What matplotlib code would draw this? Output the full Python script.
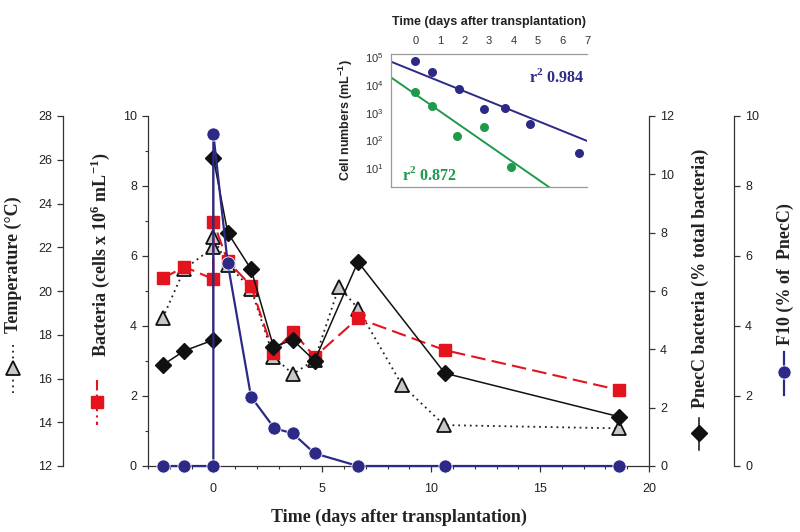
import matplotlib
matplotlib.use('Agg')
import matplotlib.pyplot as plt
import numpy as np
from matplotlib.lines import Line2D
from matplotlib.ticker import MultipleLocator, FixedLocator, NullLocator

# ---------------- data ----------------
temp_days = [-2.33, -1.33, 0, 0, 0.66, 1.73, 2.76, 3.65, 4.65, 5.77, 6.64, 8.66, 10.6, 18.64]
temp_vals = [18.75, 21.0, 22.0, 22.45, 21.2, 20.1, 17.0, 16.2, 16.85, 20.2, 19.2, 15.7, 13.87, 13.72]

bact_days = [-2.33, -1.33, 0, 0, 0.66, 1.73, 2.76, 3.65, 4.65, 6.64, 10.63, 18.63]
bact_vals = [5.36, 5.69, 5.34, 6.98, 5.85, 5.15, 3.23, 3.84, 3.12, 4.22, 3.31, 2.17]

pnec_days = [-2.33, -1.33, 0, 0, 0.66, 1.73, 2.76, 3.65, 4.65, 6.64, 10.63, 18.63]
pnec_vals = [3.46, 3.95, 4.32, 10.57, 8.0, 6.75, 4.09, 4.32, 3.61, 7.0, 3.18, 1.69]

f10_days = [-2.33, -1.33, 0, 0, 0.66, 1.73, 2.8, 3.65, 4.65, 6.64, 10.63, 18.63]
f10_vals = [0, 0, 0, 9.49, 5.79, 1.98, 1.08, 0.93, 0.36, 0, 0, 0]

# inset: cell numbers (log scale)
cell_days_blue = [0, 0.68, 1.76, 2.8, 3.66, 4.67, 6.67]
cell_vals_blue = [74000, 29000, 7100, 1400, 1500, 400, 35]
cell_days_green = [0, 0.7, 1.71, 2.8, 3.9]
cell_vals_green = [5600, 1700, 145, 300, 11.5]
fit_blue = [4.49, -0.358]   # log10 intercept, slope per day
fit_green = [3.67, -0.615]
r2_blue = "0.984"
r2_green = "0.872"

# ---------------- style ----------------
W, H = 800, 532
def fx(px): return px / W
def fy(py): return 1 - py / H

RED = '#e3141e'
NAVY = '#2c2a86'
GREEN = '#1f9a4a'
GRAY = '#c8c8c8'
AXC = '#333333'
SERIF = 'Liberation Serif'
SANS = 'Liberation Sans'

plt.rcParams['font.family'] = SANS

fig = plt.figure(figsize=(8, 5.32), dpi=100)
ax = fig.add_axes([fx(148), fy(466), fx(649) - fx(148), fy(116) - fy(466)])
ax_t = ax.twinx()
ax_p = ax.twinx()
ax_f = ax.twinx()

for a, z in ((ax_t, 1), (ax, 2), (ax_p, 3), (ax_f, 4)):
    a.set_zorder(z)
    a.patch.set_visible(False)
    for s in a.spines.values():
        s.set_visible(False)
        s.set_color(AXC)
        s.set_linewidth(0.9)

ax.set_xlim(-3, 20)

# main (bacteria) axis
ax.spines['left'].set_visible(True)
ax.spines['bottom'].set_visible(True)
ax.set_ylim(0, 10)
ax.yaxis.set_major_locator(MultipleLocator(2))
ax.yaxis.set_minor_locator(MultipleLocator(1))
ax.xaxis.set_major_locator(MultipleLocator(5))
ax.xaxis.set_minor_locator(MultipleLocator(1))
ax.tick_params(which='both', direction='out', colors=AXC, labelcolor='#222222', labelsize=9)
ax.tick_params(which='major', length=4, width=0.9)
ax.tick_params(which='minor', length=2.5, width=0.8)
ax.tick_params(axis='x', pad=8)
ax.tick_params(axis='y', pad=4)

# temperature axis (far left)
ax_t.set_ylim(12, 28)
ax_t.spines['left'].set_visible(True)
ax_t.spines['left'].set_position(('axes', (63 - 148) / 501))
ax_t.yaxis.set_ticks_position('left')
ax_t.yaxis.set_major_locator(MultipleLocator(2))
ax_t.tick_params(axis='y', direction='out', length=4, width=0.9, colors=AXC,
                 labelcolor='#222222', labelsize=9, pad=4)

# PnecC axis (right)
ax_p.set_ylim(0, 12)
ax_p.spines['right'].set_visible(True)
ax_p.yaxis.set_major_locator(MultipleLocator(2))
ax_p.tick_params(axis='y', direction='out', length=4, width=0.9, colors=AXC,
                 labelcolor='#222222', labelsize=9, pad=4)

# F10 axis (far right)
ax_f.set_ylim(0, 10)
ax_f.spines['right'].set_visible(True)
ax_f.spines['right'].set_position(('axes', (734 - 148) / 501))
ax_f.yaxis.set_major_locator(MultipleLocator(2))
ax_f.tick_params(axis='y', direction='out', length=4, width=0.9, colors=AXC,
                 labelcolor='#222222', labelsize=9, pad=4)

# ---------------- series ----------------
ax_t.plot(temp_days, temp_vals, ls=(0, (1, 2.2)), lw=1.3, color='#222222',
          marker='^', ms=10, mfc=GRAY, mec='#111111', mew=1.3, clip_on=False)
ax.plot(bact_days, bact_vals, ls=(0, (7, 3)), lw=1.5, color=RED,
        marker='s', ms=8, mfc=RED, mec=RED, clip_on=False)
ax_p.plot(pnec_days, pnec_vals, ls='-', lw=1.1, color='#111111',
          marker='D', ms=8, mfc='#111111', mec='#111111', clip_on=False)
ax_f.plot(f10_days, f10_vals, ls='-', lw=1.6, color=NAVY,
          marker='o', ms=9.5, mfc=NAVY, mec='white', mew=0.6, clip_on=False)

ax.set_xlabel('Time (days after transplantation)', family=SERIF, fontweight='bold',
              fontsize=13, labelpad=10, color='#222222')

# ---------------- axis titles with legend keys ----------------
def vlabel(x, ybot, text):
    fig.text(fx(x), fy(ybot), text, rotation=90, ha='center', va='bottom',
             family=SERIF, fontweight='bold', fontsize=13, color='#222222')

vlabel(13, 333, 'Temperature (\u00b0C)')
vlabel(100, 357, r'Bacteria (cells x 10$^{\mathregular{6}}$ mL$^{\mathregular{-1}}$)')
vlabel(700, 408, 'PnecC bacteria (% total bacteria)')
vlabel(785, 345, 'F10 (% of  PnecC)')

def key(x, y0, y1, ym, **kw):
    lkw = {k: v for k, v in kw.items() if k in ('ls', 'lw', 'color')}
    fig.add_artist(Line2D([fx(x), fx(x)], [fy(y0), fy(y1)], transform=fig.transFigure, **lkw))
    mkw = {k: v for k, v in kw.items() if k not in ('ls', 'lw', 'color')}
    fig.add_artist(Line2D([fx(x)], [fy(ym)], transform=fig.transFigure, ls='none', **mkw))

key(13, 345, 393, 368, ls=(0, (1, 2.2)), lw=1.3, color='#222222',
    marker='^', ms=10, mfc=GRAY, mec='#111111', mew=1.3)
key(97, 380, 425, 402, ls=(0, (5, 2, 1, 2)), lw=1.5, color=RED,
    marker='s', ms=8, mfc=RED, mec=RED)
key(699, 418, 450, 433, ls='-', lw=1.1, color='#111111',
    marker='D', ms=8, mfc='#111111', mec='#111111')
key(784, 352, 395, 372, ls='-', lw=1.6, color=NAVY,
    marker='o', ms=9.5, mfc=NAVY, mec='white', mew=0.6)

# ---------------- inset ----------------
ai = fig.add_axes([fx(390.7), fy(186.7), fx(587.3) - fx(390.7), fy(54) - fy(186.7)])
ai.set_zorder(6)
ai.set_xlim(-1, 7)
ai.set_yscale('log')
ai.set_ylim(10 ** 0.337, 10 ** 5.12)
ai.xaxis.tick_top()
ai.xaxis.set_label_position('top')
ai.xaxis.set_major_locator(FixedLocator(range(0, 8)))
ai.yaxis.set_major_locator(FixedLocator([10, 100, 1000, 1e4, 1e5]))
ai.yaxis.set_minor_locator(NullLocator())
ai.set_yticklabels([r'10$^{\mathregular{%d}}$' % n for n in range(1, 6)])
ai.tick_params(axis='both', length=0, labelsize=8, labelcolor='#333333')
ai.tick_params(axis='x', pad=6)
ai.tick_params(axis='y', pad=5)
for s in ('left', 'bottom', 'top'):
    ai.spines[s].set_color('#9a9a9a')
    ai.spines[s].set_linewidth(0.9)
ai.spines['right'].set_visible(False)

xl = np.array(ai.get_xlim())
ai.plot(xl, 10 ** (fit_blue[0] + fit_blue[1] * xl), color=NAVY, lw=1.4)
ai.plot(xl, 10 ** (fit_green[0] + fit_green[1] * xl), color=GREEN, lw=1.4)
ai.plot(cell_days_blue, cell_vals_blue, ls='none', marker='o', ms=6.5, color=NAVY, mec='none')
ai.plot(cell_days_green, cell_vals_green, ls='none', marker='o', ms=6.5, color=GREEN, mec='none')

ai.text(0.985, 0.83, r'r$^{\mathregular{2}}$ ' + r2_blue, transform=ai.transAxes, ha='right',
        va='center', family=SERIF, fontweight='bold', fontsize=11.5, color=NAVY)
ai.text(0.06, 0.09, r'r$^{\mathregular{2}}$ ' + r2_green, transform=ai.transAxes, ha='left',
        va='center', family=SERIF, fontweight='bold', fontsize=11.5, color=GREEN)

ai.set_xlabel('Time (days after transplantation)', fontweight='bold', fontsize=9,
              labelpad=8, color='#222222')
ai.set_ylabel(r'Cell numbers (mL$^{\mathregular{-1}}$)', fontweight='bold', fontsize=9,
              labelpad=7, color='#222222')

fig.savefig('out.png', dpi=100, facecolor='white')
